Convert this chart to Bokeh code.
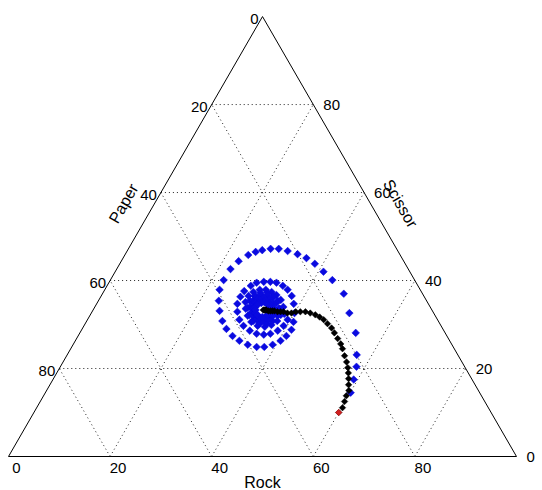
import math
from bokeh.plotting import figure
from bokeh.models import Range1d
from bokeh.core.properties import value
from bokeh.embed import file_html
from bokeh.resources import INLINE

# ---------------- data (percent shares) ----------------
axis_names = ["Rock", "Paper", "Scissor"]
tick_values = [0, 20, 40, 60, 80]
grid_values = [20, 40, 60, 80]

# blue trajectory (spiralling into the interior point)
blue_rock = [60.1, 59.2, 58.3, 57.0, 54.3, 50.8, 47.5, 43.7, 41.0, 38.4,
             36.1, 33.9, 31.6, 29.6, 28.0, 26.5, 25.4, 24.3, 23.1, 22.4,
             22.3, 22.6, 23.7, 25.0, 26.7, 28.4, 30.4, 32.3, 34.4, 36.4,
             37.9, 39.3, 40.4, 41.0, 41.3,
             40.8, 40.0, 38.8, 37.5, 36.0, 34.6, 33.0, 31.7, 30.4, 29.1,
             28.3, 27.6, 27.5, 27.7, 28.6, 29.9, 31.4, 33.2, 34.9, 36.4,
             37.6, 38.7, 39.3, 39.4,
             38.1, 37.1, 35.8, 34.4, 33.1, 31.7, 30.5, 29.5, 29.0, 29.1,
             29.9, 31.1, 32.5, 34.2, 35.7, 36.8, 37.5, 37.5,
             36.6, 35.3, 33.9, 32.4, 31.0, 30.2, 29.8, 30.2, 31.3, 32.8,
             34.3, 35.7, 36.6, 37.0,
             36.4, 35.3, 34.0, 32.6, 31.4, 30.7, 30.4, 30.6, 31.5, 32.7,
             34.1, 35.3, 35.9, 36.2,
             36.0, 34.8, 33.5, 32.2, 31.1, 30.8, 31.1, 31.9, 33.2, 34.6,
             35.7, 36.0,
             35.3, 34.1, 32.8, 31.6, 31.2, 31.3, 32.4, 33.7, 34.8, 35.2,
             35.1, 34.0, 32.8, 31.8, 31.6, 32.3, 33.5, 34.7, 35.4,
             34.4, 33.5, 32.3, 31.8, 32.0, 32.9, 34.1, 34.9]
blue_scissor = [14.5, 17.5, 20.4, 23.1, 28.1, 32.6, 37.0, 40.1, 42.0, 43.8,
                45.1, 46.0, 46.7, 47.2, 47.2, 46.9, 46.5, 45.8, 44.4, 42.6,
                40.1, 37.9, 35.4, 33.1, 30.8, 29.0, 27.4, 26.3, 25.4, 24.9,
                24.9, 25.4, 26.3, 27.4, 28.8,
                30.6, 32.6, 34.7, 36.5, 37.9, 38.8, 39.5, 39.7, 39.7, 39.5,
                38.8, 37.6, 36.3, 34.7, 32.9, 31.1, 29.7, 28.6, 27.9, 27.7,
                27.9, 28.6, 29.7, 31.1,
                32.4, 34.0, 35.6, 36.7, 37.4, 37.9, 37.9, 37.4, 36.5, 35.1,
                33.6, 32.0, 30.6, 29.7, 29.5, 29.9, 30.8, 32.2,
                33.6, 35.4, 36.5, 37.2, 37.2, 36.5, 35.4, 33.8, 32.2, 30.8,
                30.2, 30.2, 30.8, 32.0,
                33.6, 34.9, 36.1, 36.7, 36.7, 36.3, 35.4, 34.0, 32.6, 31.5,
                30.6, 30.6, 31.3, 32.4,
                33.1, 34.7, 35.8, 36.0, 35.8, 34.9, 33.6, 32.2, 31.3, 30.8,
                31.1, 32.0,
                33.8, 34.9, 35.6, 35.6, 34.9, 33.8, 32.4, 31.5, 31.5, 32.4,
                33.3, 34.7, 35.1, 34.9, 34.0, 32.6, 31.7, 31.7, 32.4,
                34.0, 34.7, 34.9, 34.5, 33.3, 32.2, 31.7, 32.2]

# black trajectory (monotone approach)
black_rock = [60.0, 60.2, 59.9, 59.6, 59.5, 58.8, 58.1, 57.4, 56.7, 55.8,
              54.7, 53.5, 52.6, 51.4, 50.1, 49.0, 47.7, 46.5, 45.4, 44.3,
              43.1, 42.0, 41.0, 40.1, 39.4, 38.6, 37.7, 37.1, 36.5, 35.8,
              35.4, 35.0, 34.6, 34.1, 33.9, 33.7, 33.5]
black_scissor = [10.0, 11.1, 12.5, 13.8, 15.0, 16.3, 17.7, 19.0, 20.2, 21.5,
                 22.9, 24.5, 25.6, 26.8, 28.1, 29.2, 30.2, 31.1, 31.7, 32.2,
                 32.6, 32.9, 32.9, 32.9, 32.6, 32.6, 32.9, 32.9, 32.9, 33.1,
                 33.1, 33.1, 33.1, 33.3, 33.3, 33.3, 33.3]

# start point (red)
start_rock = [60.0]
start_scissor = [10.0]

# ---------------- projection ----------------
H3 = math.sqrt(3) / 2


def proj(rock, scissor):
    """ternary (rock %, scissor %) -> cartesian; paper = 100 - rock - scissor"""
    xs = [r / 100.0 + 0.5 * s / 100.0 for r, s in zip(rock, scissor)]
    ys = [s / 100.0 * H3 for s in scissor]
    return xs, ys


W, H = 542, 490
SCALE = 508.0
X0, Y0 = 8.0, 456.0   # pixel position of the Paper corner
p = figure(width=W, height=H, output_backend="svg", toolbar_location=None,
           x_range=Range1d(-X0 / SCALE, (W - X0) / SCALE),
           y_range=Range1d(-(H - Y0) / SCALE, Y0 / SCALE),
           min_border=0, x_axis_location=None, y_axis_location=None)
p.grid.visible = False
p.outline_line_color = None
p.background_fill_color = "white"
p.border_fill_color = "white"

# grid lines (dotted)
gx, gy = [], []
for c in grid_values:
    x, y = proj([0, 100 - c], [c, c]); gx.append(x); gy.append(y)          # constant scissor
    x, y = proj([c, c], [0, 100 - c]); gx.append(x); gy.append(y)          # constant rock
    x, y = proj([100 - c, 0], [0, 100 - c]); gx.append(x); gy.append(y)    # constant paper
p.multi_line(gx, gy, line_color="#222222", line_width=1, line_dash="1 3")

# triangle outline
tx, ty = proj([0, 100, 0, 0], [0, 0, 100, 0])
p.line(tx, ty, line_color="black", line_width=1)

FONT = value("Liberation Sans")

# tick labels
labels = [str(v) for v in tick_values]
bx, by = proj(tick_values, [0] * len(tick_values))
p.text(bx, by, text=labels, text_align="center", text_baseline="middle",
       x_offset=8, y_offset=11, text_font=FONT, text_font_size="15px", text_color="black")
lx, ly = proj([0] * len(tick_values), [100 - v for v in tick_values])
p.text(lx, ly, text=labels, text_align="right", text_baseline="middle",
       x_offset=-4, y_offset=2, text_font=FONT, text_font_size="15px", text_color="black")
rx, ry = proj([100 - v for v in tick_values], tick_values)
p.text(rx, ry, text=labels, text_align="left", text_baseline="middle",
       x_offset=10, y_offset=0, text_font=FONT, text_font_size="15px", text_color="black")

# axis names
nx, ny = proj([50], [0])
p.text(nx, ny, text=[axis_names[0]], text_align="center", text_baseline="middle",
       y_offset=26, text_font=FONT, text_font_size="16px", text_color="black")
nx, ny = proj([0], [57.5])
p.text(nx, ny, text=[axis_names[1]], text_align="center", text_baseline="middle",
       x_offset=-31, angle=math.pi / 3, text_font=FONT, text_font_size="16px", text_color="black")
nx, ny = proj([42.5], [57.5])
p.text(nx, ny, text=[axis_names[2]], text_align="center", text_baseline="middle",
       x_offset=30, angle=-math.pi / 3, text_font=FONT, text_font_size="16px", text_color="black")

# trajectories
bx, by = proj(blue_rock, blue_scissor)
p.scatter(bx, by, marker="square", angle=math.pi / 4, size=5.4,
          fill_color="#0a0ae0", line_color="#0a0ae0", line_width=0.5)
kx, ky = proj(black_rock, black_scissor)
p.scatter(kx, ky, marker="square", angle=math.pi / 4, size=4.6,
          fill_color="black", line_color="black", line_width=0.5)
sx, sy = proj(start_rock, start_scissor)
p.scatter(sx, sy, marker="square", angle=math.pi / 4, size=4.6,
          fill_color="#d02020", line_color="#d02020", line_width=0.5)

open("out.html", "w").write(file_html(p, INLINE))
